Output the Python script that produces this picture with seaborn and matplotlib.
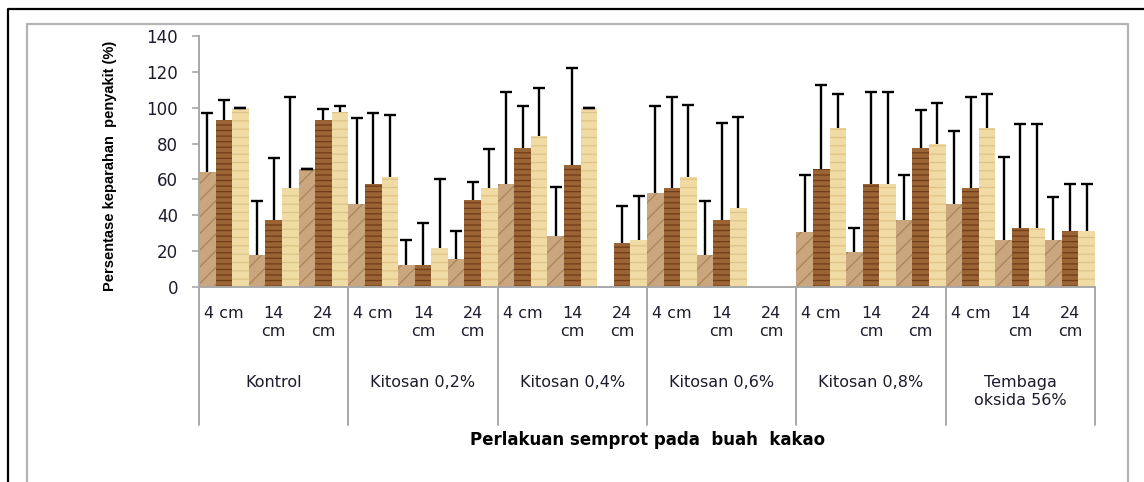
import numpy as np
import pandas as pd
import matplotlib as mpl
mpl.use("Agg")
import matplotlib.pyplot as plt
from matplotlib.lines import Line2D
import seaborn as sns

# data
treatments = ['Kontrol', 'Kitosan 0,2%', 'Kitosan 0,4%', 'Kitosan 0,6%',
              'Kitosan 0,8%', 'Tembaga\noksida 56%']
distances = ['4 cm', '14\ncm', '24\ncm']
series = ['Pengamatan 1', 'Pengamatan 2', 'Pengamatan 3']
nan = np.nan

# mean severity (%) per treatment x distance, treatment-major order
s1_mean = [64, 17.7, 66, 46.3, 12.3, 15.5, 57.3, 28.6, nan,
           52.6, 17.7, nan, 30.8, 19.8, 37.3, 46.3, 26.3, 26.3]
s2_mean = [93.3, 37.3, 93.3, 57.3, 12.3, 48.5, 77.8, 68, 24.3,
           55, 37.3, nan, 65.9, 57.3, 77.8, 55, 33, 31]
s3_mean = [100, 55, 97.4, 61.6, 22, 55, 84.4, 100, 26.3,
           61.6, 43.9, nan, 88.6, 57.3, 79.9, 88.6, 33, 31]

# standard deviation (upper error bar)
s1_sd = [33.3, 30.3, 0, 48, 13.7, 15.9, 51.7, 27.2, nan,
         48.4, 30.3, nan, 31.4, 13, 24.9, 40.7, 46.1, 24.1]
s2_sd = [11.2, 34.5, 6.2, 39.9, 23.5, 9.9, 23.2, 54, 21.1,
         51, 54, nan, 46.6, 51.7, 21, 51, 57.7, 26.7]
s3_sd = [0, 51, 3.6, 34.1, 38, 21.9, 26.6, 0, 24.3,
         39.9, 51.1, nan, 18.9, 51.7, 22.6, 18.9, 57.7, 26.7]

yticks = [0, 20, 40, 60, 80, 100, 120, 140]

# long table for seaborn
cats = [f"{t}|{d}" for t in treatments for d in distances]
rows = []
for name, vals in zip(series, [s1_mean, s2_mean, s3_mean]):
    for c, v in zip(cats, vals):
        rows.append({'kategori': c, 'seri': name, 'nilai': v})
df = pd.DataFrame(rows).dropna()
sds = [s1_sd, s2_sd, s3_sd]

sns.set_style('white')
plt.rcParams['font.family'] = ['DejaVu Sans']
txtcol = '#1c1c2c'
gray = '#a8a8a8'

fig = plt.figure(figsize=(11.44, 4.82), dpi=100)
ax = fig.add_axes([0.17395, 0.40456, 0.7832, 0.52075])

face = ['#c9a67d', '#9a6434', '#f0dba4']
hatch_col = ['#a88458', '#6e3c18', '#dfc386']
hatches = ['//', '---', '--']
plt.rcParams['hatch.linewidth'] = 0.9

sns.barplot(data=df, x='kategori', y='nilai', hue='seri', order=cats,
            hue_order=series, palette=face, width=1.0, gap=0,
            errorbar=None, legend=False, saturation=1, ax=ax)

for i, cont in enumerate(list(ax.containers)):
    for p in cont.patches:
        p.set_hatch(hatches[i])
        p.set_edgecolor(hatch_col[i])
        p.set_linewidth(0)
        xc = p.get_x() + p.get_width() / 2
        k = int(np.floor(xc + 0.5))
        e = sds[i][k]
        if np.isnan(e):
            continue
        eb = ax.errorbar(xc, p.get_height(), yerr=[[0], [e]], fmt='none',
                         ecolor='black', elinewidth=1.7, capsize=4.5,
                         capthick=1.7, zorder=5)
        # only the upper half is shown: drop the cap sitting on the bar top
        if e > 0:
            eb[1][0].set_visible(False)

ax.set_xlim(-0.5, len(cats) - 0.5)
ax.set_ylim(0, 140)
ax.set_yticks(yticks)
ax.set_xticks([])
ax.set_xlabel('')
ax.set_ylabel('')
ax.tick_params(axis='y', direction='out', length=5, width=1.2, color=gray,
               pad=10, labelsize=12, labelcolor=txtcol, left=True)
for s in ['top', 'right']:
    ax.spines[s].set_visible(False)
for s in ['left', 'bottom']:
    ax.spines[s].set_color(gray)
    ax.spines[s].set_linewidth(1.4)

# multi-level category axis
tr = ax.get_xaxis_transform()
for j in range(len(treatments) + 1):
    xs = -0.5 + 3 * j
    ax.plot([xs, xs], [0, -0.55], transform=tr, color=gray, lw=1.4,
            clip_on=False)
for k, c in enumerate(cats):
    ax.text(k, -0.076, c.split('|')[1], transform=tr, ha='center', va='top',
            fontsize=11.5, color=txtcol, linespacing=1.25)
for j, t in enumerate(treatments):
    ax.text(3 * j + 1, -0.352, t, transform=tr, ha='center', va='top',
            fontsize=11.5, color=txtcol, linespacing=1.25)

fig.text(648 / 1144, 1 - 440 / 482, 'Perlakuan semprot pada  buah  kakao',
         ha='center', va='center', fontsize=12, fontweight='bold',
         color='black')
fig.text(110 / 1144, 1 - 166 / 482, 'Persentase keparahan  penyakit (%)',
         rotation=90, ha='center', va='center', fontsize=10.5,
         fontweight='bold', family=['Liberation Sans', 'DejaVu Sans'],
         color='black')

# frames around the chart
fig.add_artist(Line2D([8 / 1144, 8 / 1144, 1.0], [0, 1 - 9 / 482, 1 - 9 / 482],
                      transform=fig.transFigure, color='black', lw=1.6))
fig.add_artist(Line2D([27 / 1144, 27 / 1144, 1128 / 1144, 1128 / 1144],
                      [0, 1 - 24 / 482, 1 - 24 / 482, 0],
                      transform=fig.transFigure, color='#b4b4b4', lw=1.6))

fig.savefig('out.png', dpi=100)
